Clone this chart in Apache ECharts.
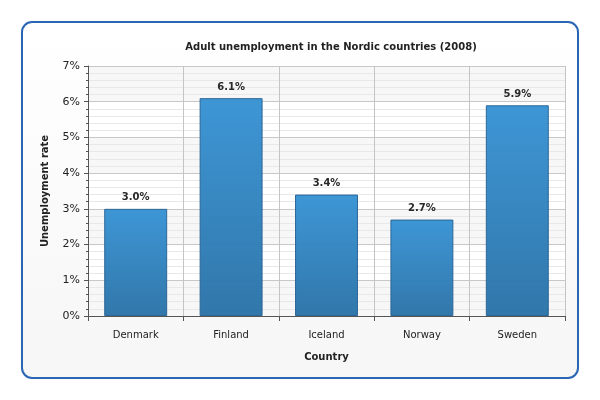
<!DOCTYPE html>
<html><head><meta charset="utf-8">
<script src="https://cdn.jsdelivr.net/npm/echarts@6/dist/echarts.min.js"></script>
<style>html,body{margin:0;padding:0;background:#fff}#c{width:600px;height:400px}</style>
</head><body><div id="c"></div>
<script>
const categories = ['Denmark', 'Finland', 'Iceland', 'Norway', 'Sweden'];
const unemployment = [3.0, 6.1, 3.4, 2.7, 5.9];
const yTicks = [0, 1, 2, 3, 4, 5, 6, 7];

const chart = echarts.init(document.getElementById('c'), null, {renderer: 'canvas'});
const font = 'DejaVu Sans, Verdana, sans-serif';
chart.setOption({
  animation: false,
  graphic: [{
    type: 'rect', z: -10, silent: true,
    shape: {x: 22, y: 22, width: 556, height: 356, r: 10},
    style: {
      fill: new echarts.graphic.LinearGradient(0, 0, 0, 1, [
        {offset: 0, color: '#ffffff'}, {offset: 1, color: '#f6f6f6'}]),
      stroke: '#2a66b4', lineWidth: 2
    }
  }],
  title: {
    text: 'Adult unemployment in the Nordic countries (2008)',
    left: 326, top: 37, textAlign: 'center',
    textStyle: {fontFamily: font, fontSize: 10, fontWeight: 'bold', color: '#222'}
  },
  grid: {left: 88, right: 35, top: 66, bottom: 84, containLabel: false},
  xAxis: {
    type: 'category', data: categories,
    name: 'Country', nameLocation: 'middle', nameGap: 36,
    nameTextStyle: {fontFamily: font, fontSize: 10, fontWeight: 'bold', color: '#222'},
    axisLine: {lineStyle: {color: '#555', width: 1}},
    axisTick: {show: true, length: 5, lineStyle: {color: '#555'}},
    axisLabel: {fontFamily: font, fontSize: 10, color: '#222', margin: 14},
    splitLine: {show: true, lineStyle: {color: '#c4c4c4'}}
  },
  yAxis: {
    type: 'value', min: 0, max: 7, interval: 1,
    name: 'Unemployment rate', nameLocation: 'middle', nameGap: 38, nameRotate: 90,
    nameTextStyle: {fontFamily: font, fontSize: 10, fontWeight: 'bold', color: '#222'},
    axisLine: {show: true, lineStyle: {color: '#555'}},
    axisTick: {show: true, length: 4, lineStyle: {color: '#555'}},
    minorTick: {show: true, splitNumber: 5, length: 2, lineStyle: {color: '#555'}},
    axisLabel: {fontFamily: font, fontSize: 11, color: '#222', margin: 8,
      formatter: v => yTicks.includes(v) ? v + '%' : ''},
    splitLine: {show: true, lineStyle: {color: '#c8c8c8'}},
    minorSplitLine: {show: true, lineStyle: {color: '#e8e8e8'}},
    splitArea: {show: true, areaStyle: {color: ['#f7f7f7', '#ffffff']}}
  },
  series: [{
    type: 'bar', data: unemployment, barWidth: '66%',
    itemStyle: {
      color: new echarts.graphic.LinearGradient(0, 0, 0, 1, [
        {offset: 0, color: '#3893d4'}, {offset: 1, color: '#2b73a8'}]),
      borderColor: '#2a6496', borderWidth: 1, opacity: 0.97
    },
    label: {show: true, position: 'top', distance: 6,
      formatter: p => p.value.toFixed(1) + '%',
      fontFamily: font, fontSize: 10, fontWeight: 'bold', color: '#222'}
  }]
});
</script></body></html>
